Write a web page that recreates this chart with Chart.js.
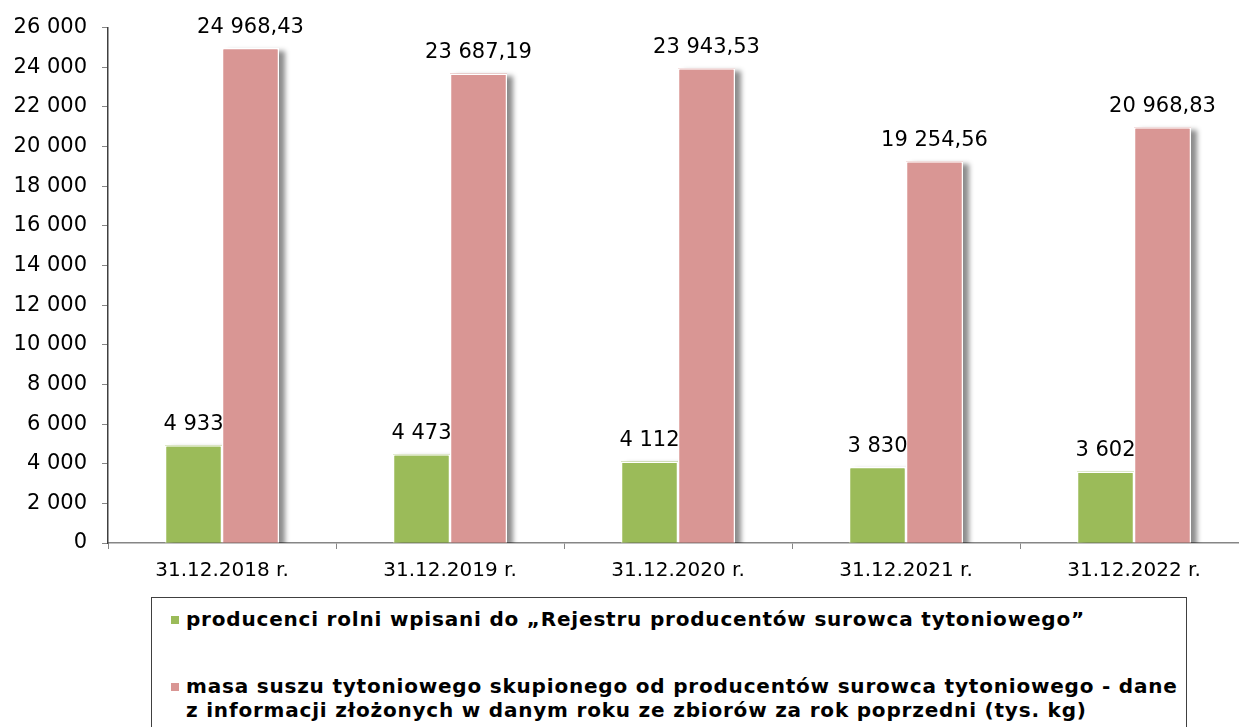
<!DOCTYPE html>
<html>
<head>
<meta charset="utf-8">
<script src="https://cdn.jsdelivr.net/npm/chart.js@4/dist/chart.umd.min.js"></script>
<style>
    html, body { margin: 0; padding: 0; background: #fff; overflow: hidden; width: 1239px; height: 727px; }
    #wrap { position: relative; width: 1250px; height: 590px; }
    #tyt_legend {
        position: absolute; left: 151px; top: 597px; width: 1036px; height: 140px;
        border: 1px solid #404040; box-sizing: border-box;
        font-family: "DejaVu Sans", Verdana, sans-serif; font-weight: bold; font-size: 20px;
        letter-spacing: 0.8px; color: #000;
    }
    .lg_item { position: absolute; left: 19px; display: flex; align-items: flex-start; line-height: 24px; }
    .lg_box { width: 8px; height: 8px; margin: 9px 7px 0 0; flex: none; }
    .lg_text { white-space: pre-line; }
</style>
</head>
<body>
<div id="wrap"><canvas id="tyt_chart" width="1250" height="590"></canvas></div>
<div id="tyt_legend"></div>
<script>
    const years = ['31.12.2018 r.', '31.12.2019 r.', '31.12.2020 r.', '31.12.2021 r.', '31.12.2022 r.'];
    const producers = [4933, 4473, 4112, 3830, 3602];
    const tobaccoMass = [24968.43, 23687.19, 23943.53, 19254.56, 20968.83];
    const seriesNames = [
        'producenci rolni wpisani do \u201eRejestru producentów surowca tytoniowego\u201d',
        'masa suszu tytoniowego skupionego od producentów surowca tytoniowego - dane\nz informacji złożonych w danym roku ze zbiorów za rok poprzedni (tys. kg)'
    ];
    const seriesDecimals = [0, 2];

    const font_family = '"DejaVu Sans", Verdana, sans-serif';

    function fmtPl(value, decimals) {
        let parts = value.toFixed(decimals).split('.');
        let whole = parts[0].replace(/\B(?=(\d{3})+(?!\d))/g, ' ');
        return parts.length > 1 ? `${whole},${parts[1]}` : whole;
    }

    // drop shadow to the lower right of the bars
    // (BarElement clips to its own rect, so the shadow is painted separately underneath)
    const barShadow = {
        id: 'barShadow',
        beforeDatasetsDraw(chart) {
            let ctx = chart.ctx;
            let area = chart.chartArea;
            ctx.save();
            ctx.beginPath();
            ctx.rect(area.left, 0, area.right - area.left, area.bottom);
            ctx.clip();
            ctx.shadowColor = 'rgba(0, 0, 0, 0.45)';
            ctx.shadowBlur = 5;
            ctx.shadowOffsetX = 6;
            ctx.shadowOffsetY = 3;
            chart.data.datasets.forEach((ds, i) => {
                ctx.fillStyle = ds.backgroundColor;
                chart.getDatasetMeta(i).data.forEach(bar => {
                    let p = bar.getProps(['x', 'y', 'base', 'width'], true);
                    ctx.fillRect(p.x - p.width / 2, p.y, p.width, p.base - p.y);
                });
            });
            ctx.restore();
        }
    };

    // value printed above every bar
    const valueLabels = {
        id: 'valueLabels',
        afterDatasetsDraw(chart) {
            let ctx = chart.ctx;
            ctx.save();
            ctx.font = `21px ${font_family}`;
            ctx.fillStyle = '#000';
            ctx.textAlign = 'center';
            ctx.textBaseline = 'middle';
            chart.data.datasets.forEach((ds, i) => {
                chart.getDatasetMeta(i).data.forEach((bar, j) => {
                    ctx.fillText(fmtPl(ds.data[j], seriesDecimals[i]), bar.x, bar.y - 21);
                });
            });
            ctx.restore();
        }
    };

    let chartCanvas = document.getElementById('tyt_chart').getContext('2d');
    let chartObject = new Chart(chartCanvas, {
        type: 'bar',
        data: {
            labels: years,
            datasets: [{
                label: seriesNames[0],
                data: producers,
                backgroundColor: '#9BBB59',
                borderColor: '#ffffff',
                borderWidth: 1.5,
            }, {
                label: seriesNames[1],
                data: tobaccoMass,
                backgroundColor: '#D99694',
                borderColor: '#ffffff',
                borderWidth: 1.5,
            }],
        },
        plugins: [barShadow, valueLabels],
        options: {
            responsive: false,
            animation: false,
            layout: { padding: { top: 27, right: 2, left: 0, bottom: 0 } },
            categoryPercentage: 0.5,
            barPercentage: 1.0,
            plugins: {
                legend: { display: false },
                tooltip: { enabled: false },
            },
            scales: {
                x: {
                    grid: { drawOnChartArea: false, drawTicks: true, tickLength: 6, color: '#868686', offset: true },
                    border: { color: '#868686', width: 1.5 },
                    ticks: { color: '#000', padding: 10, font: { family: font_family, size: 20 }, maxRotation: 0 },
                    afterFit: function(scale) { scale.height = 47; },
                },
                y: {
                    min: 0,
                    max: 26000,
                    grid: { drawOnChartArea: false, drawTicks: true, tickLength: 6, color: '#868686' },
                    border: { color: '#404040', width: 1.5 },
                    ticks: {
                        stepSize: 2000,
                        color: '#000',
                        padding: 15,
                        font: { family: font_family, size: 21 },
                        callback: function(tick) { return fmtPl(tick, 0); },
                    },
                    afterFit: function(scale) { scale.width = 108; },
                }
            }
        }
    });

    // legend box below the plot
    let legendEl = document.getElementById('tyt_legend');
    let legendTops = [9, 76];
    chartObject.data.datasets.forEach((ds, i) => {
        let item = document.createElement('div');
        item.className = 'lg_item';
        item.style.top = legendTops[i] + 'px';
        let box = document.createElement('span');
        box.className = 'lg_box';
        box.style.background = ds.backgroundColor;
        let txt = document.createElement('span');
        txt.className = 'lg_text';
        txt.textContent = ds.label;
        item.appendChild(box);
        item.appendChild(txt);
        legendEl.appendChild(item);
    });
</script>
</body>
</html>
